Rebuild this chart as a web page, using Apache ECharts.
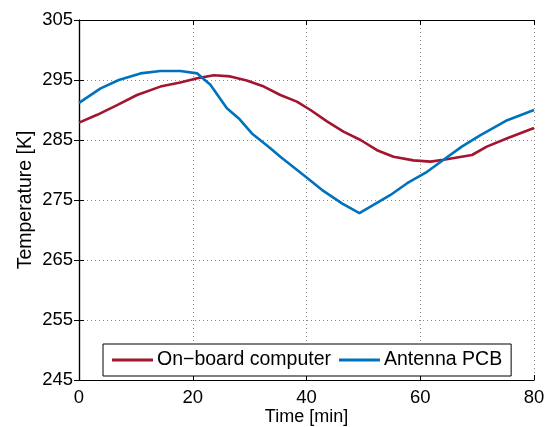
<!DOCTYPE html>
<html>
<head>
<meta charset="utf-8">
<script src="https://cdn.jsdelivr.net/npm/echarts@6/dist/echarts.min.js"></script>
<style>
  html, body { margin: 0; padding: 0; background: #fff; }
  #chart { width: 549px; height: 427px; }
</style>
</head>
<body>
<div id="chart"></div>
<script>
// Temperature log: on-board computer vs antenna PCB
const obcTime = [0, 3.2, 6.7, 10.2, 14.3, 17.8, 20.8, 23.7, 26.6, 29.5, 32.5, 35.4, 38.3, 40.7, 43.6, 46.5, 49.5, 52.4, 55.3, 58.8, 61.8, 64.1, 69.1, 71.7, 75.3, 80];
const obcTemp = [287.9, 289.2, 290.8, 292.5, 293.9, 294.6, 295.3, 295.8, 295.6, 294.9, 293.9, 292.5, 291.4, 290.0, 288.1, 286.4, 285.0, 283.3, 282.2, 281.6, 281.4, 281.7, 282.5, 283.9, 285.3, 287.0];

const pcbTime = [0, 3.8, 7, 10.8, 14.3, 17.8, 20.8, 23.1, 26, 28.1, 30.4, 33.7, 35.4, 39.8, 42.7, 46.3, 49.3, 54.7, 57.7, 61.2, 64.1, 67.3, 70.6, 75.3, 80];
const pcbTemp = [291.2, 293.6, 295.0, 296.1, 296.5, 296.5, 296.1, 294.2, 290.3, 288.6, 286.1, 283.6, 282.2, 278.9, 276.7, 274.4, 272.8, 275.8, 277.8, 279.7, 281.7, 283.9, 285.8, 288.3, 290.0];

const seriesNames = ['On\u2212board computer', 'Antenna PCB'];
const xTicks = [0, 20, 40, 60, 80];
const yTicks = [245, 255, 265, 275, 285, 295, 305];

const pairs = (xs, ys) => xs.map((x, i) => [x, ys[i]]);

const FONT = '"Liberation Sans", Arial, Helvetica, sans-serif';
const gridLine = { show: true, lineStyle: { color: '#8a8a8a', type: [1, 3], width: 1 } };

const chart = echarts.init(document.getElementById('chart'), null, { renderer: 'canvas' });
chart.setOption({
  animation: false,
  backgroundColor: '#ffffff',
  grid: { left: 79, right: 15, top: 20, bottom: 47, containLabel: false, outerBoundsMode: 'none' },
  xAxis: [{
    type: 'value', min: xTicks[0], max: xTicks[xTicks.length - 1], interval: 20,
    name: 'Time [min]', nameLocation: 'middle', nameGap: 37, nameMoveOverlap: false,
    nameTextStyle: { fontFamily: FONT, fontSize: 18, color: '#000', verticalAlign: 'middle' },
    axisLine: { show: true, lineStyle: { color: '#000', width: 1.2 } },
    axisTick: { show: true, inside: true, length: 5, lineStyle: { color: '#000' } },
    axisLabel: { fontFamily: FONT, fontSize: 18.5, color: '#000', margin: 8 },
    splitLine: gridLine
  }, {
    type: 'value', position: 'top', min: 0, max: 80, interval: 20,
    axisLine: { show: true, lineStyle: { color: '#000', width: 1.2 } },
    axisTick: { show: true, inside: true, length: 5, lineStyle: { color: '#000' } },
    axisLabel: { show: false }, splitLine: { show: false }
  }],
  yAxis: [{
    type: 'value', min: yTicks[0], max: yTicks[yTicks.length - 1], interval: 10,
    name: 'Temperature [K]', nameLocation: 'middle', nameGap: 53, nameRotate: 90, nameMoveOverlap: false,
    nameTextStyle: { fontFamily: FONT, fontSize: 19.5, color: '#000', verticalAlign: 'middle' },
    axisLine: { show: true, lineStyle: { color: '#000', width: 1.2 } },
    axisTick: { show: true, inside: true, length: 5, lineStyle: { color: '#000' } },
    axisLabel: { fontFamily: FONT, fontSize: 18.5, color: '#000', margin: 6 },
    splitLine: gridLine
  }, {
    type: 'value', position: 'right', min: 245, max: 305, interval: 10,
    axisLine: { show: true, lineStyle: { color: '#000', width: 1.2 } },
    axisTick: { show: true, inside: true, length: 5, lineStyle: { color: '#000' } },
    axisLabel: { show: false }, splitLine: { show: false }
  }],
  legend: {
    left: 103, top: 344,
    orient: 'horizontal',
    backgroundColor: '#fff', borderColor: '#000', borderWidth: 1,
    padding: [6, 9, 6, 9],
    itemGap: 8, itemWidth: 41, itemHeight: 3,
    icon: 'rect',
    textStyle: { fontFamily: FONT, fontSize: 19.5, color: '#000', padding: [0, 0, 0, -1] },
    data: seriesNames
  },
  series: [{
    name: seriesNames[0], type: 'line', data: pairs(obcTime, obcTemp),
    showSymbol: false, symbol: 'none', z: 3,
    color: '#A2142F', lineStyle: { color: '#A2142F', width: 2.6 }
  }, {
    name: seriesNames[1], type: 'line', data: pairs(pcbTime, pcbTemp),
    showSymbol: false, symbol: 'none', z: 3,
    color: '#0072BD', lineStyle: { color: '#0072BD', width: 2.6 }
  }]
});
</script>
</body>
</html>
